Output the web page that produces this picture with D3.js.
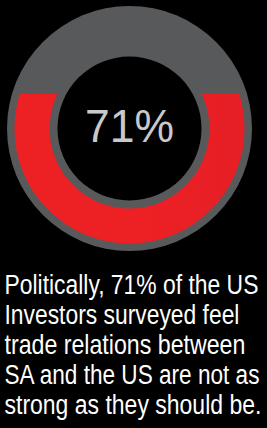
<!DOCTYPE html>
<html>
<head>
<meta charset="utf-8">
<script src="https://cdn.jsdelivr.net/npm/d3@7"></script>
<style>
  html, body { margin: 0; padding: 0; background: #000; }
</style>
</head>
<body>
<div id="my_gauge"></div>
<script>
// chart values
const gaugeValue = [71];
const gaugeMax = [100];
const centerLabel = ["71%"];
const captionLines = [
  "Politically, 71% of the US",
  "Investors surveyed feel",
  "trade relations between",
  "SA and the US are not as",
  "strong as they should be."
];
const captionWidths = [254, 235, 241, 255, 257];

// dimensions
const width = 267, height = 428;
const cx = 129.5, cy = 128.5;
const rDisc = 122.5, rRedOut = 115, rRedIn = 80, rBlack = 72;

const svg = d3.select("#my_gauge")
  .append("svg")
    .attr("width", width)
    .attr("height", height)
    .style("display", "block")
    .style("background", "#000");

const defs = svg.append("defs");

// horizontal red gradient
const grad = defs.append("linearGradient")
    .attr("id", "redGrad")
    .attr("gradientUnits", "userSpaceOnUse")
    .attr("x1", cx - rRedOut).attr("x2", cx + rRedOut)
    .attr("y1", 0).attr("y2", 0);
grad.selectAll("stop")
  .data([{o: 0, c: "#ed2024"}, {o: 0.5, c: "#e41f26"}, {o: 1, c: "#8e1a1d"}])
  .join("stop")
    .attr("offset", d => d.o)
    .attr("stop-color", d => d.c);

// fill level scale
const level = d3.scaleLinear()
  .domain([0, gaugeMax[0]])
  .range([cy + rRedOut, cy - rRedOut * 0.83]);

defs.append("clipPath")
    .attr("id", "fillClip")
  .append("rect")
    .attr("x", 0)
    .attr("y", level(gaugeValue[0]))
    .attr("width", width)
    .attr("height", height);

const g = svg.append("g")
    .attr("transform", `translate(${cx}, ${cy})`);

// gray disc
g.append("circle")
    .attr("r", rDisc)
    .attr("fill", "#58595b");

// red ring, filled from the bottom up
const ring = d3.arc()
    .innerRadius(rRedIn)
    .outerRadius(rRedOut)
    .startAngle(0)
    .endAngle(2 * Math.PI);

svg.append("g")
    .attr("clip-path", "url(#fillClip)")
  .append("path")
    .attr("transform", `translate(${cx}, ${cy})`)
    .attr("d", ring())
    .attr("fill", "url(#redGrad)");

// black centre
g.append("circle")
    .attr("r", rBlack)
    .attr("fill", "#000");

const centerText = g.append("text")
    .attr("text-anchor", "middle")
    .attr("font-family", "Liberation Sans, Arial, sans-serif")
    .attr("font-size", 47)
    .attr("fill", "#c8c9cb")
    .text(centerLabel[0]);
const cw = centerText.node().getComputedTextLength();
centerText.attr("transform", `translate(0, 13.5) scale(${89 / cw}, 1)`);

// caption, squeezed horizontally to look condensed
svg.append("g")
    .attr("font-family", "Liberation Sans, Arial, sans-serif")
    .attr("font-size", 28)
    .attr("fill", "#fff")
  .selectAll("text")
  .data(captionLines)
  .join("text")
    .text(d => d)
    .attr("transform", function(d, i) {
      const natural = this.getComputedTextLength();
      return `translate(4.5, ${294 + i * 30}) scale(${captionWidths[i] / natural}, 1)`;
    });
</script>
</body>
</html>
